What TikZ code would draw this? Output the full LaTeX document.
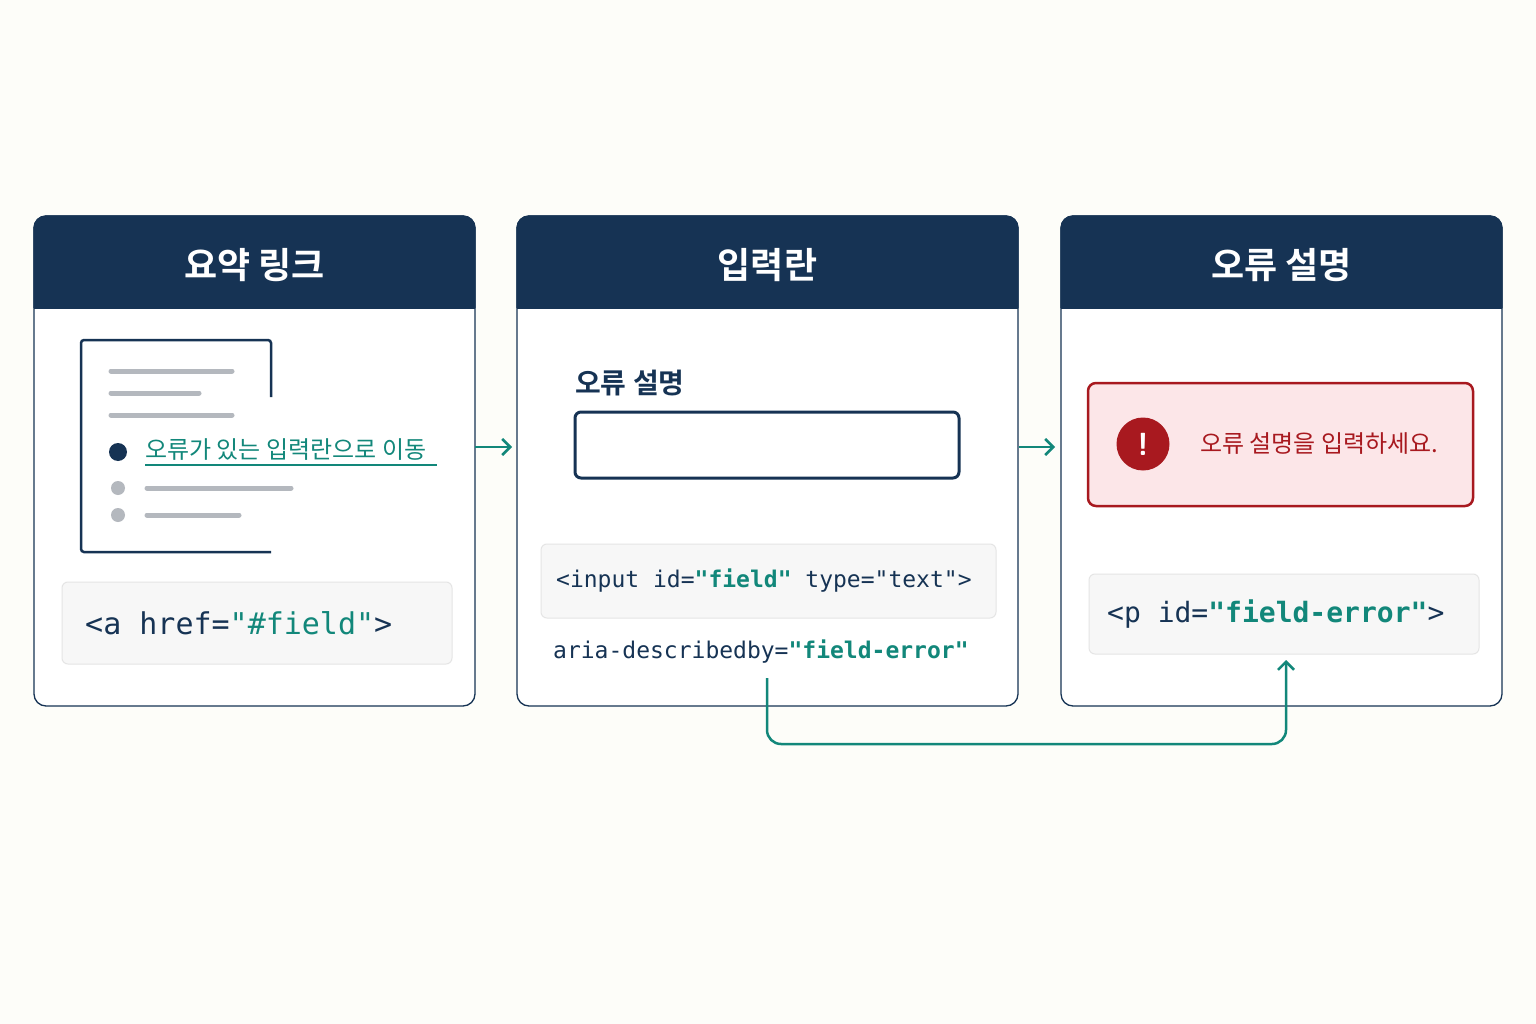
\documentclass[tikz,border=0pt]{standalone}
\usepackage{fontspec}
\setmonofont{DejaVu Sans Mono}
\newfontfamily\kr{Noto Sans CJK KR}
\newfontfamily\krb{Noto Sans CJK KR Bold}
\usetikzlibrary{arrows.meta}
\definecolor{navy}{HTML}{163354}
\definecolor{teal}{HTML}{12877A}
\definecolor{bg}{HTML}{FDFDF9}
\definecolor{gline}{HTML}{B4B8BE}
\definecolor{errred}{HTML}{A8191F}
\definecolor{errfill}{HTML}{FCE6E8}
\begin{document}
\begin{tikzpicture}[x=1pt,y=-1pt,
  panel/.style={draw=navy,line width=1.3pt,fill=white,rounded corners=12pt},
  header/.style={fill=navy,rounded corners=12pt},
  title/.style={text=white,font=\krb\fontsize{36}{40}\selectfont},
  code/.style={draw=black!10,fill=black!3,line width=1pt,rounded corners=6pt},
  gl/.style={gline,line width=5pt,line cap=round},
  arr/.style={teal,line width=2.5pt,-{Straight Barb[length=8pt,width=16pt]}},
  mono/.style={anchor=west,inner sep=0pt,text=navy}]
\fill[bg] (0,0) rectangle (1536,1024);
% panels
\foreach \a/\b/\n in {34/475/p1,517/1018/p2,1061/1502/p3}{
  \draw[panel] (\a,216) rectangle (\b,706);
  \begin{scope}
    \clip (\a,216) rectangle (\b,308);
    \fill[header] (\a,216) rectangle (\b,330);
  \end{scope}
  \draw[navy,line width=1.3pt,rounded corners=12pt] (\a,308) -- (\a,216) -- (\b,216) -- (\b,308);
}
\node[title] (t1) at (254.5,265) {요약 링크};
\node[title] (t2) at (767.5,265) {입력란};
\node[title] (t3) at (1281.5,265) {오류 설명};
% panel1 doc
\draw[navy,line width=2.5pt,rounded corners=3pt] (271,397) -- (271,340) -- (81,340) -- (81,552) -- (271,552);
\draw[gl] (111,371) -- (232,371);
\draw[gl] (111,393) -- (199,393);
\draw[gl] (111,415) -- (232,415);
\fill[navy] (118,452) circle (9);
\node[anchor=west,inner sep=0pt,text=teal,font=\kr\fontsize{24}{28}\selectfont] (lnk) at (145,450) {오류가 있는 입력란으로 이동};
\draw[teal,line width=1.5pt] (145,465) -- (437,465);
\fill[gline] (118,488) circle (7) (118,515) circle (7);
\draw[gl] (147,488) -- (291,488);
\draw[gl] (147,515) -- (239,515);
\draw[code] (62,582) rectangle (452,664);
\node[mono,font=\ttfamily\fontsize{30}{34}\selectfont] (c1) at (85,623) {<a href=\textcolor{teal}{"\#field"}>};
% arrows
\coordinate (a1s) at (475,447); \coordinate (a1e) at (512,447);
\draw[arr] (a1s) -- (a1e);
\coordinate (a2s) at (1019,447); \coordinate (a2e) at (1055,447);
\draw[arr] (a2s) -- (a2e);
% panel2
\node[anchor=west,inner sep=0pt,text=navy,font=\krb\fontsize{28}{32}\selectfont] (lbl) at (575,383) {오류 설명};
\draw[navy,line width=3pt,rounded corners=6pt,fill=white] (575,412) rectangle (959,478);
\draw[code] (541,544) rectangle (996,618);
\node[mono,font=\ttfamily\fontsize{23}{28}\selectfont] (c2) at (556,581) {<input id=\textcolor{teal}{\bfseries"field"} type="text">};
\node[mono,font=\ttfamily\fontsize{23}{28}\selectfont] (c3) at (553,652) {aria-describedby=\textcolor{teal}{\bfseries"field-error"}};
% panel3
\draw[errred,fill=errfill,line width=2.5pt,rounded corners=8pt] (1088,383) rectangle (1473,506);
\node[circle,fill=errred,minimum size=53pt,inner sep=0pt,text=white,font=\sffamily\bfseries\fontsize{32}{32}\selectfont] (ex) at (1143,444) {!};
\node[anchor=west,inner sep=0pt,text=errred,font=\kr\fontsize{24}{28}\selectfont] (em) at (1200,444) {오류 설명을 입력하세요.};
\draw[code] (1089,574) rectangle (1479,654);
\node[mono,font=\ttfamily\fontsize{28}{32}\selectfont] (c4) at (1107,614) {<p id=\textcolor{teal}{\bfseries"field-error"}>};
% connector
\coordinate (cs) at (767,678);
\coordinate (ce) at (1286,660);
\draw[arr,rounded corners=14pt] (cs) -- (767,744) -- (1286,744) -- (ce);
\end{tikzpicture}
\end{document}
